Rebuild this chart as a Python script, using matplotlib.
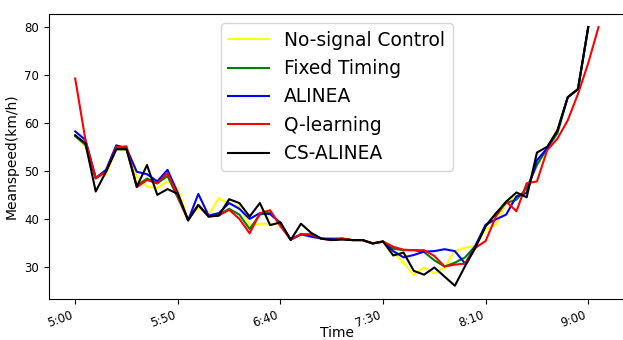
import matplotlib
matplotlib.use("Agg")
import matplotlib.pyplot as plt

# mean speed every time step (index)
no_signal = [57.5, 55.1, 48.9, 49.3, 54.8, 54.4, 48.9, 46.8, 46.5, 47.9,
             46.5, 40.0, 42.4, 41.0, 44.4, 43.2, 42.7, 38.9, 39.1, 39.1,
             38.9, 35.8, 36.9, 36.9, 36.0, 35.8, 36.0, 35.7, 35.7, 35.1,
             35.4, 33.2, 31.0, 28.4, 30.0, 28.8, 30.0, 33.5, 34.1, 34.5,
             37.9, 38.9, 43.4, 44.8, 45.8, 51.7, 54.8, 58.9, 65.4, 67.1, 80.0]
fixed_timing = [57.3, 55.5, 48.5, 50.0, 54.6, 54.6, 47.0, 48.5, 47.5, 49.0,
                44.5, 40.0, 43.0, 40.6, 41.0, 42.2, 41.0, 38.0, 41.0, 41.4,
                39.0, 35.8, 36.9, 36.8, 36.0, 35.8, 36.0, 35.7, 35.7, 35.0,
                35.4, 33.9, 33.6, 33.6, 33.2, 31.5, 30.2, 31.0, 32.1, 34.5,
                38.6, 41.3, 43.4, 44.1, 46.5, 51.3, 54.8, 57.9, 65.4, 67.1, 80.0]
alinea = [58.3, 56.5, 48.6, 50.3, 55.4, 54.8, 49.9, 49.4, 47.9, 50.3,
          45.5, 39.8, 45.3, 40.8, 41.3, 43.4, 42.2, 40.1, 41.3, 41.1,
          39.3, 35.8, 36.9, 36.4, 36.0, 36.0, 36.0, 35.7, 35.7, 35.0,
          35.4, 33.4, 32.1, 32.6, 33.3, 33.4, 33.8, 33.4, 30.8, 34.5,
          38.9, 40.0, 41.0, 44.8, 45.5, 52.3, 54.8, 58.5, 65.4, 67.1, 80.0]
q_learning = [69.3, 56.5, 48.6, 49.9, 55.0, 55.2, 46.7, 48.2, 47.5, 49.6,
              44.8, 39.8, 43.0, 40.6, 40.8, 42.0, 40.1, 37.1, 41.3, 41.9,
              38.6, 35.8, 36.9, 36.9, 36.0, 35.7, 36.0, 35.7, 35.7, 35.0,
              35.4, 34.3, 33.7, 33.6, 33.6, 32.4, 30.2, 30.6, 30.8, 34.1,
              35.5, 40.6, 43.7, 41.7, 47.5, 47.9, 54.4, 56.8, 60.6, 66.1,
              72.5, 80.0]
cs_alinea = [57.5, 55.8, 45.8, 49.9, 54.6, 54.6, 46.8, 51.3, 45.1, 46.3,
             45.3, 39.8, 43.0, 40.6, 40.8, 44.2, 43.4, 40.6, 43.4, 38.8,
             39.4, 35.7, 39.1, 37.2, 36.0, 35.7, 35.8, 35.7, 35.7, 35.0,
             35.4, 32.5, 33.1, 29.3, 28.5, 30.0, 28.1, 26.2, 30.3, 34.1,
             38.6, 41.2, 43.7, 45.6, 44.6, 53.9, 55.1, 58.5, 65.4, 67.1, 80.0]

tick_pos = [0, 10, 20, 30, 40, 50]
tick_labels = ["5:00", "5:50", "6:40", "7:30", "8:10", "9:00"]

series = [
    ("No-signal Control", no_signal, "yellow"),
    ("Fixed Timing", fixed_timing, "green"),
    ("ALINEA", alinea, "blue"),
    ("Q-learning", q_learning, "red"),
    ("CS-ALINEA", cs_alinea, "black"),
]

fig = plt.figure(figsize=(6.23, 3.4), dpi=100)
ax = fig.add_axes([0.0787, 0.1215, 0.924, 0.837])

for name, vals, color in series:
    ax.plot(range(len(vals)), vals, color=color, linewidth=1.5, label=name)

ax.set_xticks(tick_pos)
ax.set_xticklabels(tick_labels, rotation=20, ha="right")
ax.set_yticks([30, 40, 50, 60, 70, 80])
ax.tick_params(labelsize=8.5)
ax.set_xlabel("Time", fontsize=10)
ax.xaxis.set_label_coords(0.5, -0.097)
ax.set_ylabel("Meanspeed(km/h)", fontsize=10)

ax.legend(loc="upper center", fontsize=13.4, handlelength=2.2)

fig.savefig("out.png", dpi=100)
